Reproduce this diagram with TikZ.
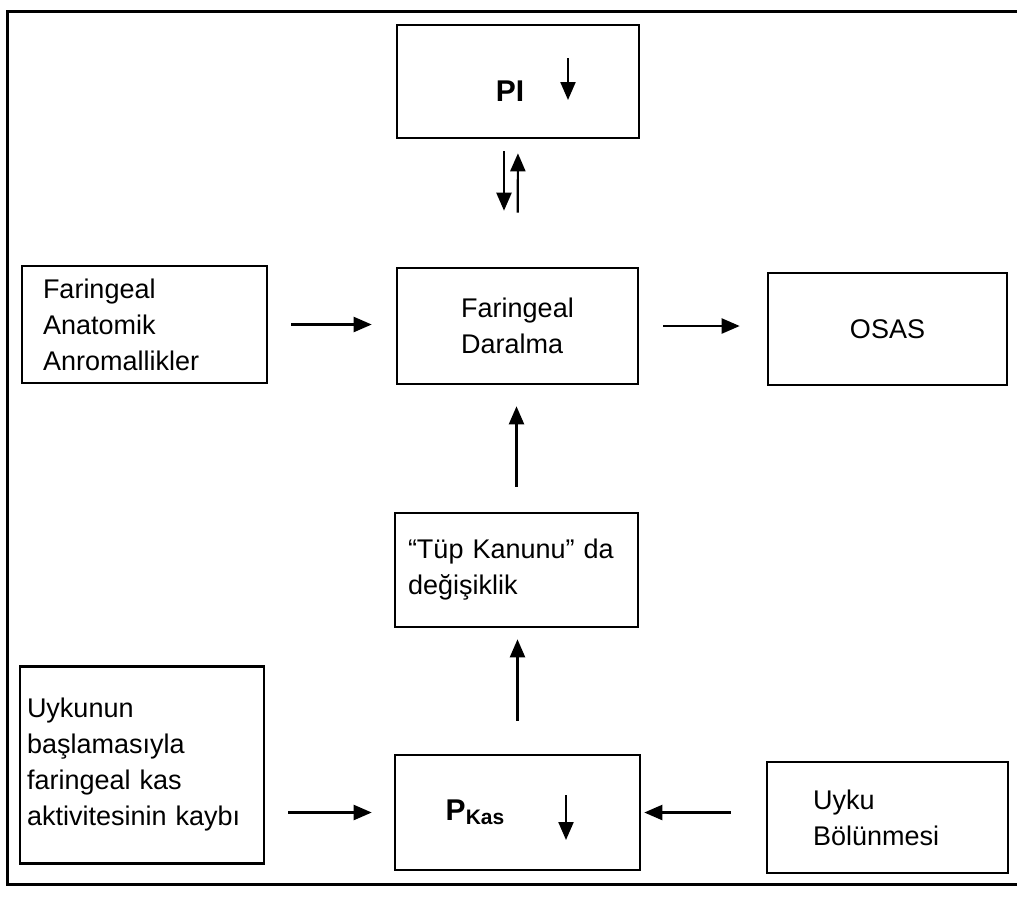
\documentclass[tikz,border=0pt]{standalone}
\usepackage{fontspec}
\setmainfont{Liberation Sans}
\usetikzlibrary{arrows.meta,calc}

\begin{document}
\begin{tikzpicture}[x=0.5pt,y=-0.5pt,
        kutu/.style={draw,line width=1.3pt,inner sep=0pt,font=\fontsize{13.5}{18}\selectfont},
        ok/.style={-{Triangle[length=9pt,width=7.5pt]},line width=1.1pt}]
                \useasboundingbox (0,0) rectangle (1017,896);
                % cerceve (sag kenari yok)
                \draw[line width=1.5pt] (1017,11) -- (7,11) -- (7,884) -- (1017,884);

                \node[kutu,minimum width=121pt,minimum height=56.5pt,text height=20pt,text depth=0pt] (pi) at (518,81.5) {\fontsize{15}{18}\selectfont\textbf{PI}\hspace*{8pt}};
                \node[kutu,minimum width=120.5pt,minimum height=58pt,align=left] (dar) at (517.5,326) {Faringeal\\Daralma};
                \node[kutu,minimum width=122.5pt,minimum height=58.5pt,inner xsep=10.5pt,text width=101.5pt,align=left] (anat) at (144.5,324.5) {Faringeal\\Anatomik\\Anromallikler};
                \node[kutu,minimum width=119.5pt,minimum height=56pt] (osas) at (887.5,329) {OSAS};
                \node[kutu,minimum width=121.5pt,minimum height=57pt,inner xsep=6.5pt,text width=108.5pt,align=left] (tup) at (516.5,570) {“Tüp Kanunu” da\\değişiklik};
                \node[kutu,minimum width=122.5pt,minimum height=57.5pt] (kas) at (517.5,812.5) {\fontsize{15}{18}\selectfont\textbf{P\textsubscript{Kas}}\hspace*{42pt}};
                \node[kutu,minimum width=122pt,minimum height=98.5pt,inner xsep=3.5pt,text width=115pt,align=left] (uyku) at (142,765) {Uykunun\\başlamasıyla\\faringeal kas\\aktivitesinin kaybı};
                \node[kutu,minimum width=120.5pt,minimum height=55.5pt,inner xsep=23pt,text width=74.5pt,align=left] (bol) at (887.5,817.5) {Uyku\\Bölünmesi};

                % oklar
                \draw[ok,shorten <=11.5pt,shorten >=12pt] (anat.east) -- (dar.west |- anat.east);
                \draw[ok,shorten <=12pt,shorten >=13.5pt] (dar.east) -- (osas.west |- dar.east);
                \draw[ok,shorten <=12.5pt,shorten >=10.5pt] (tup.north) -- (tup.north |- dar.south);
                \draw[ok,shorten <=16.5pt,shorten >=5.5pt] (kas.north) -- (kas.north |- tup.south);
                \draw[ok,shorten <=11.5pt,shorten >=11pt] (uyku.east |- kas.west) -- (kas.west);
                \draw[ok,shorten <=17.5pt,shorten >=1.5pt] (bol.west |- kas.east) -- (kas.east);
                \draw[ok,shorten <=6pt,shorten >=28pt] ([xshift=-7pt]pi.south) -- ([xshift=-7pt]pi.south |- dar.north);
                \draw[ok,shorten <=27pt,shorten >=7pt] (dar.north) -- (pi.south);

                % kutu icindeki asagi oklar
                \draw[ok] ([xshift=25pt,yshift=11.75pt]pi.center) -- ++(0,42);
                \draw[ok] ([xshift=24.25pt,yshift=8.75pt]kas.center) -- ++(0,45);
\end{tikzpicture}
\end{document}
